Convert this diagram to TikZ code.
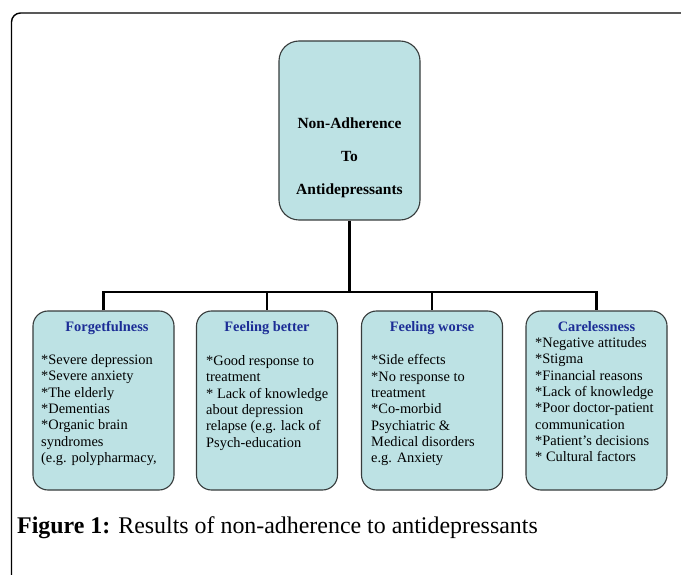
\documentclass[tikz,border=0pt]{standalone}
\usepackage{fontspec}
\setmainfont{Liberation Serif}
\definecolor{boxfill}{RGB}{189,226,228}
\definecolor{boxline}{RGB}{55,60,60}
\definecolor{headblue}{RGB}{28,45,150}
\begin{document}
\begin{tikzpicture}[x=1pt,y=-1pt,
  box/.style={draw=boxline,line width=1.1pt,fill=boxfill,rounded corners=15pt,
    minimum width=141pt,minimum height=179pt,inner sep=0pt},
  topbox/.style={box,rounded corners=20pt},
  conn/.style={draw=black,line width=2.6pt},
  head/.style={font=\fontsize{14.4}{16}\selectfont\bfseries,text=headblue,inner sep=0pt,anchor=base},
  body/.style={font=\fontsize{14.4}{16.3}\selectfont,align=left,inner sep=0pt,anchor=north west},
  title/.style={font=\fontsize{15.5}{33}\selectfont\bfseries,align=center,inner sep=0pt}]
\useasboundingbox (0,0) rectangle (681,575);
\clip (0,0) rectangle (681,575);
\fill[white] (0,0) rectangle (681,575);
% outer frame
\draw[line width=1.4pt,rounded corners=9pt] (11.5,600) -- (11.5,13) -- (700,13);
% boxes
\node[topbox,minimum height=179pt] (top) at (349.5,130.5) {};
\node[title] (toptext) at (349.5,158) {Non-Adherence\\To\\Antidepressants};
\node[box] (b1) at (103.5,400.5) {};
\node[box] (b2) at (267,400.5) {};
\node[box] (b3) at (432,400.5) {};
\node[box] (b4) at (596.5,400.5) {};
% connectors
\coordinate (bar) at (349.5,292);
\draw[conn] (top.south) -- (bar);
\draw[conn] (b1.north) -- (b1.north |- bar) -- (b4.north |- bar) -- (b4.north);
\draw[conn] (b2.north |- bar) -- (b2.north);
\draw[conn] (b3.north |- bar) -- (b3.north);
% headings
\node[head] (h1) at (107,331.5) {Forgetfulness};
\node[head] (h2) at (267,331.5) {Feeling better};
\node[head] (h3) at (432,331.5) {Feeling worse};
\node[head] (h4) at (596.5,331.5) {Carelessness};
% body texts
\node[body] (t1) at (41,354.5) {*Severe depression\\*Severe anxiety\\*The elderly\\*Dementias\\*Organic brain\\syndromes\\(e.g. polypharmacy,};
\node[body] (t2) at (206,355.5) {*Good response to\\treatment\\* Lack of knowledge\\about depression\\relapse (e.g. lack of\\Psych-education};
\node[body] (t3) at (371,354.5) {*Side effects\\*No response to\\treatment\\*Co-morbid\\Psychiatric \&\\Medical disorders\\e.g. Anxiety};
\node[body] (t4) at (535,337.5) {*Negative attitudes\\*Stigma\\*Financial reasons\\*Lack of knowledge\\*Poor doctor-patient\\communication\\*Patient’s decisions\\* Cultural factors};
% caption
\node[anchor=base west,inner sep=0pt,font=\fontsize{23.9}{27}\selectfont] (cap) at (17,533)
  {\textbf{Figure 1:} Results of non-adherence to antidepressants};
\end{tikzpicture}
\end{document}
